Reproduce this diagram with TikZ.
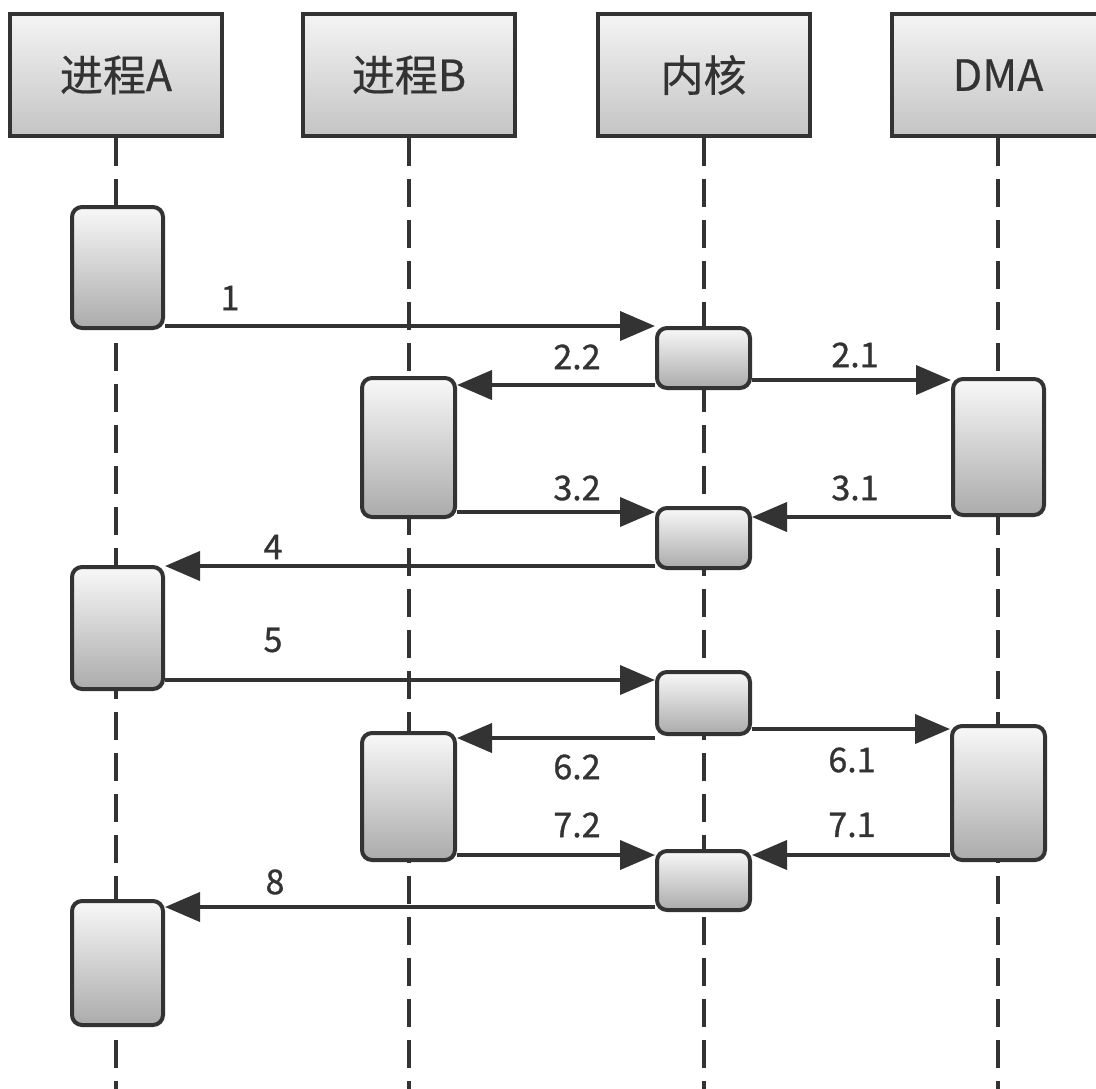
\documentclass[tikz,border=0pt]{standalone}
\usepackage{fontspec}
\setmainfont{Noto Sans CJK SC}
\newfontfamily\headfont{Noto Sans CJK SC}[FakeBold=0.5]
\newfontfamily\numfont{Noto Sans CJK SC}[FakeBold=0.9]
\usetikzlibrary{arrows.meta}

\definecolor{ink}{HTML}{333333}
\definecolor{headtop}{HTML}{F4F4F4}
\definecolor{headbot}{HTML}{C4C4C4}
\definecolor{acttop}{HTML}{F8F8F8}
\definecolor{actbot}{HTML}{ABABAB}

\tikzset{
  header/.style={draw=ink, line width=4pt, top color=headtop, bottom color=headbot,
    minimum width=212pt, minimum height=122pt, inner sep=0pt,
    font=\headfont\fontsize{43}{50}\selectfont, text=ink},
  act/.style={draw=ink, line width=4pt, rounded corners=10pt,
    top color=acttop, bottom color=actbot, inner sep=0pt},
  lifeline/.style={draw=ink, line width=4pt, dash pattern=on 28pt off 13pt},
  msg/.style={draw=ink, line width=4pt, -{Triangle[length=35pt,width=29pt]}},
  lbl/.style={font=\numfont\fontsize{34}{40}\selectfont, text=ink, inner sep=0pt}
}

\begin{document}
\begin{tikzpicture}[x=1pt, y=-1pt]
  \useasboundingbox (0,0) rectangle (1096,1088);
  \clip (0,0) rectangle (1096,1088);
  \fill[white] (0,0) rectangle (1096,1088);

  % participants
  \node[header] (pa) at (116,75)   {进程A};
  \node[header] (pb) at (409,75)   {进程B};
  \node[header] (pk) at (703.5,75) {内核};
  \node[header] (pd) at (998,75)   {DMA};

  % lifelines
  \coordinate (ea) at (117,1100);
  \coordinate (eb) at (408,1100);
  \coordinate (ek) at (704,1100);
  \coordinate (ed) at (998,1100);
  \draw[lifeline] (pa.south) -- (pa.south |- ea);
  \draw[lifeline] (pb.south) -- (pb.south |- eb);
  \draw[lifeline] (pk.south) -- (pk.south |- ek);
  \draw[lifeline] (pd.south) -- (pd.south |- ed);

  % activation bars
  \node[act, minimum width=91pt, minimum height=121pt] (a1) at (117.5,267.5) {};
  \node[act, minimum width=93pt, minimum height=60pt]  (k1) at (703.5,358) {};
  \node[act, minimum width=93pt, minimum height=139pt] (b1) at (408.5,447.5) {};
  \node[act, minimum width=91pt, minimum height=136pt] (d1) at (998.5,447) {};
  \node[act, minimum width=93pt, minimum height=60pt]  (k2) at (703.5,538) {};
  \node[act, minimum width=91pt, minimum height=122pt] (a2) at (117.5,628) {};
  \node[act, minimum width=93pt, minimum height=62pt]  (k3) at (703.5,703) {};
  \node[act, minimum width=93pt, minimum height=127pt] (b2) at (408.5,796.5) {};
  \node[act, minimum width=93pt, minimum height=134pt] (d2) at (998.5,793) {};
  \node[act, minimum width=93pt, minimum height=59pt]  (k4) at (703.5,880.5) {};
  \node[act, minimum width=91pt, minimum height=124pt] (a3) at (117.5,963) {};

  % messages
  \draw[msg] (a1.east |- 0,326) -- (k1.west |- 0,326);
  \draw[msg] (k1.west |- 0,385) -- (b1.east |- 0,385);
  \draw[msg] (k1.east |- 0,380) -- (d1.west |- 0,380);
  \draw[msg] (b1.east |- 0,512) -- (k2.west |- 0,512);
  \draw[msg] (d1.west |- 0,517) -- (k2.east |- 0,517);
  \draw[msg] (k2.west |- 0,566) -- (a2.east |- 0,566);
  \draw[msg] (a2.east |- 0,680) -- (k3.west |- 0,680);
  \draw[msg] (k3.west |- 0,738) -- (b2.east |- 0,738);
  \draw[msg] (k3.east |- 0,729) -- (d2.west |- 0,729);
  \draw[msg] (b2.east |- 0,855) -- (k4.west |- 0,855);
  \draw[msg] (d2.west |- 0,855) -- (k4.east |- 0,855);
  \draw[msg] (k4.west |- 0,907) -- (a3.east |- 0,907);

  % message labels
  \node[lbl] (l1)  at (230,298) {1};
  \node[lbl] (l22) at (577,357) {2.2};
  \node[lbl] (l21) at (855,355) {2.1};
  \node[lbl] (l32) at (577,488) {3.2};
  \node[lbl] (l31) at (855,488) {3.1};
  \node[lbl] (l4)  at (273,547) {4};
  \node[lbl] (l5)  at (273,640) {5};
  \node[lbl] (l62) at (577,767) {6.2};
  \node[lbl] (l61) at (852,760) {6.1};
  \node[lbl] (l72) at (577,825) {7.2};
  \node[lbl] (l71) at (852,825) {7.1};
  \node[lbl] (l8)  at (275,882) {8};
\end{tikzpicture}
\end{document}
